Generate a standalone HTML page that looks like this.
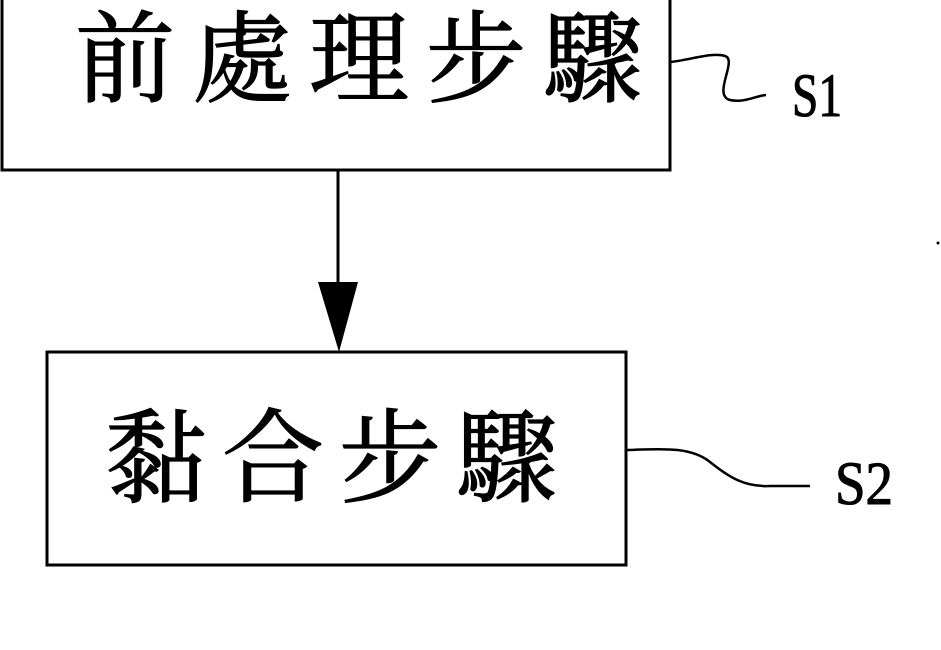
<!DOCTYPE html>
<html><head><meta charset="utf-8"><style>
html,body{margin:0;padding:0;background:#fff;width:941px;height:650px;overflow:hidden}
svg{display:block}
</style></head><body>
<svg width="941" height="650" viewBox="0 0 941 650" xmlns="http://www.w3.org/2000/svg">
<rect x="2" y="-10" width="668" height="180" fill="none" stroke="#000" stroke-width="3"/>
<text x="75" y="94" font-family="'Liberation Serif','Noto Serif CJK SC','Noto Sans CJK TC',serif" font-size="100" letter-spacing="17" stroke="#000" stroke-width="1.2">前處理步驟</text>
<line x1="338" y1="170" x2="338" y2="290" stroke="#000" stroke-width="3"/>
<polygon points="318,282 358,282 339,352" fill="#000"/>
<rect x="47" y="352" width="579" height="213" fill="none" stroke="#000" stroke-width="3"/>
<text x="105" y="494" font-family="'Liberation Serif','Noto Serif CJK SC','Noto Sans CJK TC',serif" font-size="102" letter-spacing="15" stroke="#000" stroke-width="1.2">黏合步驟</text>
<path d="M670,62 C690,60 712,52 725,56 C738,60 712,95 730,100 C745,103 755,96 766,95" fill="none" stroke="#000" stroke-width="2.5"/>
<path d="M627,450 C660,449 690,446 710,462 C730,478 745,487 770,486 L810,486" fill="none" stroke="#000" stroke-width="2.5"/>
<text transform="translate(792,116) scale(1,1.4)" font-family="'Liberation Serif',serif" font-size="44" textLength="50" lengthAdjust="spacingAndGlyphs" stroke="#000" stroke-width="0.8">S1</text>
<text transform="translate(835,504) scale(1,1.4)" font-family="'Liberation Serif',serif" font-size="44" textLength="58" lengthAdjust="spacingAndGlyphs" stroke="#000" stroke-width="0.8">S2</text>
<circle cx="938" cy="243" r="1.5" fill="#000"/>
</svg>
</body></html>
